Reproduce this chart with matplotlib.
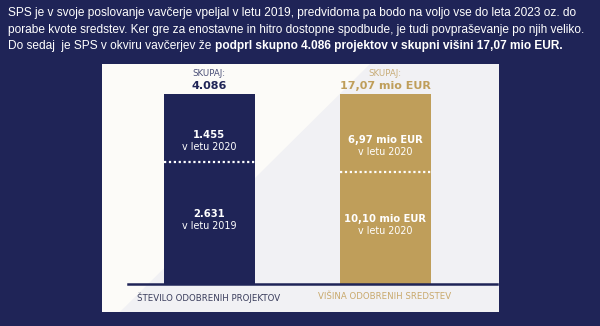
import matplotlib
matplotlib.use("Agg")
import matplotlib.pyplot as plt
from matplotlib.patches import Rectangle, Polygon

# ---- data ----
categories = ["ŠTEVILO ODOBRENIH PROJEKTOV", "VIŠINA ODOBRENIH SREDSTEV"]
projects = [2631, 1455]          # 2019, 2020
funds = [10.10, 6.97]            # mio EUR
project_labels = ["2.631", "1.455"]
project_years = ["v letu 2019", "v letu 2020"]
fund_labels = ["10,10 mio EUR", "6,97 mio EUR"]
fund_years = ["v letu 2020", "v letu 2020"]
totals_text = ["4.086", "17,07 mio EUR"]
header_lines = [
    "SPS je v svoje poslovanje vavčerje vpeljal v letu 2019, predvidoma pa bodo na voljo vse do leta 2023 oz. do",
    "porabe kvote sredstev. Ker gre za enostavne in hitro dostopne spodbude, je tudi povpraševanje po njih veliko.",
]
header_last_plain = "Do sedaj  je SPS v okviru vavčerjev že "
header_last_bold = "podprl skupno 4.086 projektov v skupni višini 17,07 mio EUR."

NAVY = "#1f2457"
GOLD = "#bf9e5a"
LIGHT_GOLD = "#c8ad78"
PANEL_GRAY = "#f1f1f4"
PANEL_WHITE = "#fcfbf8"

W, H = 600, 326
fig = plt.figure(figsize=(W / 100, H / 100), dpi=100, facecolor=NAVY)

def fx(px):
    return px / W

def fy(py):
    return 1 - py / H

# ---- panel background ----
pl, pr, pt, pb = 102, 499, 64, 312
pan = fig.add_axes([fx(pl), fy(pb), fx(pr - pl), (pb - pt) / H])
pan.set_xlim(0, 1)
pan.set_ylim(0, 1)
pan.axis("off")
pan.add_patch(Rectangle((0, 0), 1, 1, color=PANEL_GRAY, zorder=0))
pan.add_patch(Polygon([(0, 0), (0.045, 0), (0.675, 1), (0, 1)], closed=True,
                      color=PANEL_WHITE, zorder=1, lw=0))

# ---- chart axes ----
base_y, top_y = 284, 94
ax_l, ax_r = 128, 497
ax = fig.add_axes([fx(ax_l), fy(base_y), fx(ax_r - ax_l), (base_y - top_y) / H])
ax.patch.set_alpha(0)
centers_px = [209, 385]
ppu = centers_px[1] - centers_px[0]
x0 = -(centers_px[0] - ax_l) / ppu
x1 = x0 + (ax_r - ax_l) / ppu
ax.set_xlim(x0, x1)
ax.set_ylim(0, 1)
bar_w = 91 / ppu

series = [projects, funds]
colors = [NAVY, GOLD]
for i, vals in enumerate(series):
    tot = sum(vals)
    fr = [v / tot for v in vals]
    ax.bar(i, fr[0], bottom=0, width=bar_w, color=colors[i], zorder=2)
    ax.bar(i, fr[1], bottom=fr[0], width=bar_w, color=colors[i], zorder=2)
    ax.hlines(fr[0], i - bar_w / 2, i + bar_w / 2, colors="white",
              linestyles=(0, (1, 1.2)), linewidth=1.6, zorder=3)
    labs = [project_labels, fund_labels][i]
    yrs = [project_years, fund_years][i]
    mids = [fr[0] / 2, fr[0] + fr[1] / 2]
    shifts = [-1, -12.5]
    for m, lab, yr, sh in zip(mids, labs, yrs, shifts):
        ax.annotate(lab, (i, m), xytext=(0, 3.5 + sh), textcoords="offset points",
                    ha="center", va="bottom", color="white", fontsize=7.2,
                    fontweight="bold", zorder=4)
        ax.annotate(yr, (i, m), xytext=(0, 2.5 + sh), textcoords="offset points",
                    ha="center", va="top", color="white", fontsize=6.9, zorder=4)
    tcol = [NAVY, GOLD][i]
    scol = ["#4a4f78", LIGHT_GOLD][i]
    ax.annotate(totals_text[i], (i, 1), xytext=(0, 2), textcoords="offset points",
                ha="center", va="bottom", color=tcol, fontsize=8,
                fontweight="bold")
    ax.annotate("SKUPAJ:", (i, 1), xytext=(0, 11.5), textcoords="offset points",
                ha="center", va="bottom", color=scol, fontsize=6.2)

for s in ["top", "right", "left"]:
    ax.spines[s].set_visible(False)
ax.spines["bottom"].set_color(NAVY)
ax.spines["bottom"].set_linewidth(1.8)
ax.spines["bottom"].set_zorder(5)
ax.set_yticks([])
ax.set_xticks([0, 1])
ax.set_xticklabels(categories, fontsize=6.2)
ax.tick_params(axis="x", length=0, pad=6)
lbl_colors = ["#3a3d5c", "#c9a96c"]
for t, c in zip(ax.get_xticklabels(), lbl_colors):
    t.set_color(c)

# ---- header text ----
hfont = dict(color="white", fontsize=8.6, family="Liberation Sans")
fig.text(fx(8), fy(13), header_lines[0], va="center", ha="left", **hfont)
fig.text(fx(8), fy(30), header_lines[1], va="center", ha="left", **hfont)
t1 = fig.text(fx(8), fy(46), header_last_plain, va="center", ha="left", **hfont)
fig.canvas.draw()
bb = t1.get_window_extent()
fig.text(bb.x1 / W, fy(46), header_last_bold, va="center", ha="left",
         fontweight="bold", **hfont)

fig.savefig("out.png", dpi=100, facecolor=NAVY)
